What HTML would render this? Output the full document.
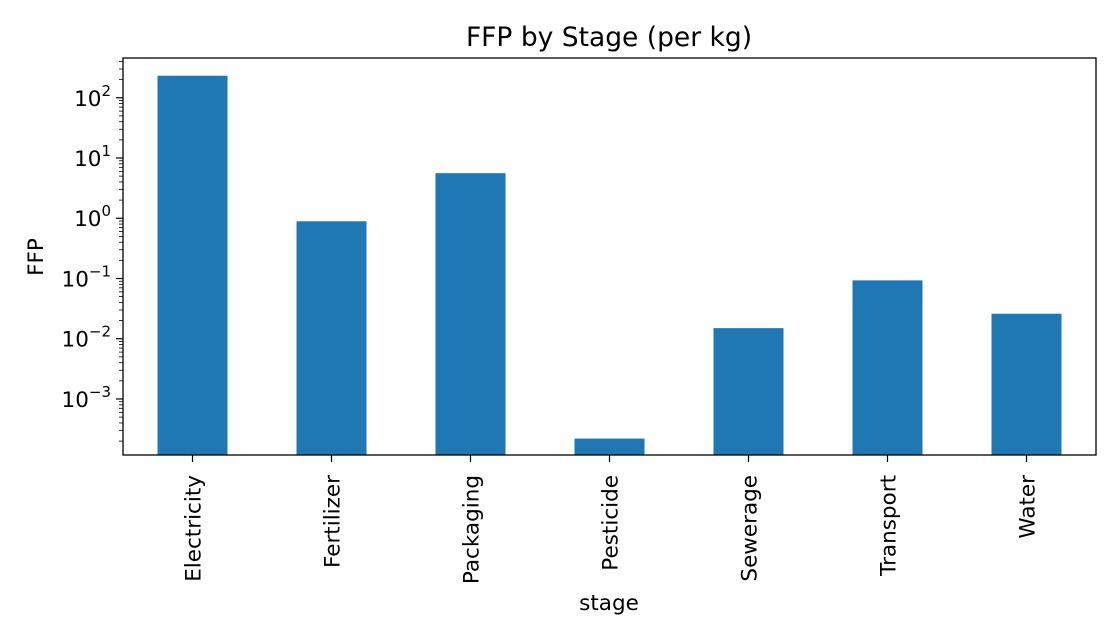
<!DOCTYPE html>
<html><head><meta charset="utf-8"><style>body{margin:0;background:#fff}svg{display:block;font-family:"DejaVu Sans","Liberation Sans",sans-serif}</style></head>
<body>
<svg id="chart" width="1120" height="640" xmlns="http://www.w3.org/2000/svg">
<text x="609" y="46" font-size="26.5" text-anchor="middle">FFP by Stage (per kg)</text>
<text x="609" y="610" font-size="21.5" text-anchor="middle">stage</text>
<text transform="translate(43,257) rotate(-90)" font-size="21.5" text-anchor="middle">FFP</text>
<g id="bars"></g><g id="axes"></g>
<rect x="123" y="58" width="973" height="397" fill="none" stroke="#000" stroke-width="1.3"/>
</svg>
<script>
const categories=["Electricity","Fertilizer","Packaging","Pesticide","Sewerage","Transport","Water"];
const values=[232,0.89,5.6,0.00022,0.015,0.093,0.026];
const tickExps=[2,1,0,-1,-2,-3];
const NS="http://www.w3.org/2000/svg";
const L=123,R=1096,T=58,B=455,yMin=-3.93,yMax=2.66;
function y(v){return B-(Math.log10(v)-yMin)/(yMax-yMin)*(B-T);}
function x(i){return L+(i+0.5)*(R-L)/categories.length;}
const bars=document.getElementById('bars'),axes=document.getElementById('axes');
function mk(tag,attrs,parent){const e=document.createElementNS(NS,tag);for(const k in attrs)e.setAttribute(k,attrs[k]);parent.appendChild(e);return e;}
categories.forEach((c,i)=>{
 const yt=y(values[i]);
 const r=mk('rect',{x:x(i)-35,y:yt,width:70,height:B-yt,fill:'#1f77b4'},bars);
 
 
 mk('line',{x1:x(i),x2:x(i),y1:B,y2:B+7,stroke:'#000','stroke-width':1.2},axes);
 const t=mk('text',{transform:`translate(${x(i)+8},${B+20}) rotate(-90)`,'font-size':21.5,'text-anchor':'end'},axes);
 t.textContent=c;
 
 
});
for(let e=-4;e<=2;e++){for(let m=2;m<=9;m++){const v=m*Math.pow(10,e);const yy=y(v);if(yy<T||yy>B)continue;mk('line',{x1:L-4,x2:L,y1:yy,y2:yy,stroke:'#000','stroke-width':0.8},axes);}}
tickExps.forEach(e=>{
 const yy=y(Math.pow(10,e));
 mk('line',{x1:L-7,x2:L,y1:yy,y2:yy,stroke:'#000','stroke-width':1.2},axes);
 const t=mk('text',{x:L-12,y:yy+8,'font-size':21.5,'text-anchor':'end'},axes);
 t.innerHTML='10<tspan dy="-10" font-size="15">'+(e<0?'\u2212'+(-e):e)+'</tspan>';
 
 
});
</script>
</body></html>
